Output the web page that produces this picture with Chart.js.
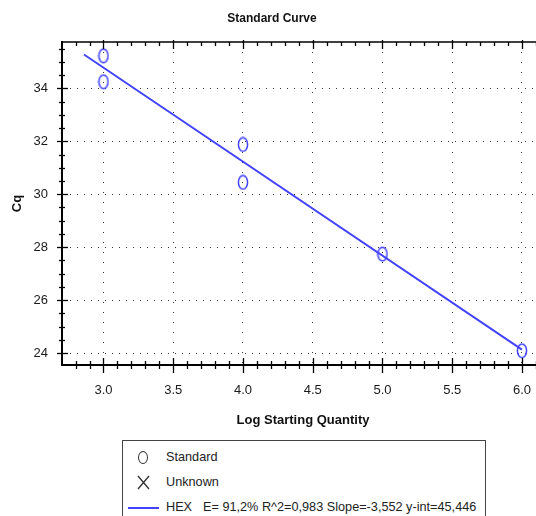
<!DOCTYPE html>
<html><head><meta charset="utf-8">
<script src="https://cdn.jsdelivr.net/npm/chart.js@4"></script>
<style>
html,body{margin:0;padding:0;width:536px;height:516px;overflow:hidden;background:#fff;}
#wrap{position:relative;width:554px;height:516px;}
#c{position:absolute;left:0;top:0;}
#legend{position:absolute;left:122px;top:440px;width:362px;height:95px;border:1.5px solid #444;background:#fff;font:12.7px "Liberation Sans",Arial,sans-serif;color:#222;}
.t{position:absolute;line-height:16px;white-space:nowrap;}
.m{position:absolute;}
</style></head><body>
<div id="wrap"><canvas id="c" width="554" height="516"></canvas><div id="legend"></div></div>
<script>
// ---- data ----
const standardLogQty = [3.0, 3.0, 4.0, 4.0, 5.0, 6.0];
const standardCq     = [35.23, 34.25, 31.88, 30.45, 27.74, 24.09];
const unknownLogQty  = [];
const unknownCq      = [];
const fitLogQty      = [2.86, 6.0];
const fitCq          = [35.28, 24.13];
const xTickValues    = [3.0, 3.5, 4.0, 4.5, 5.0, 5.5, 6.0];
const yTickValues    = [24, 26, 28, 30, 32, 34];
const seriesNames    = ['Standard', 'Unknown', 'HEX'];
const fitStats       = 'E= 91,2% R^2=0,983 Slope=-3,552 y-int=45,446';
const chartTitle     = 'Standard Curve';
const xTitle         = 'Log Starting Quantity';
const yTitle         = 'Cq';

const BLUE = 'rgb(66,66,255)';
const FONT = '"Liberation Sans", Arial, sans-serif';

// ellipse marker
const marker = document.createElement('canvas');
marker.width = 12; marker.height = 16;
(function(){const g = marker.getContext('2d');
  g.strokeStyle = BLUE; g.lineWidth = 1.5;
  g.beginPath(); g.ellipse(6, 8, 4.6, 6.8, 0, 0, Math.PI*2); g.stroke();})();

const axisTicks = {
  id: 'axisTicks',
  afterDraw(chart){
    const {ctx, chartArea:a, scales:{x, y}} = chart;
    ctx.save();
    ctx.strokeStyle = '#000';
    ctx.lineWidth = 1.5;
    ctx.beginPath(); ctx.moveTo(a.left, a.top); ctx.lineTo(a.right, a.top); ctx.stroke();
    ctx.lineWidth = 1.3;
    for (let i = 28; i <= 61; i++) {
      const px = Math.round(x.getPixelForValue(i/10)) + 0.5;
      if (px < a.left || px > a.right) continue;
      const major = i % 5 === 0;
      ctx.beginPath(); ctx.moveTo(px, a.bottom - (major?7:4)); ctx.lineTo(px, a.bottom + (major?8:4)); ctx.stroke();
      ctx.beginPath(); ctx.moveTo(px, a.top - (major?2:0)); ctx.lineTo(px, a.top + (major?7:4)); ctx.stroke();
    }
    for (let i = 48; i <= 71; i++) {
      const py = Math.round(y.getPixelForValue(i/2)) + 0.5;
      if (py < a.top || py > a.bottom) continue;
      const major = i % 4 === 0;
      ctx.beginPath(); ctx.moveTo(a.left - (major?5:3), py); ctx.lineTo(a.left + (major?6:3), py); ctx.stroke();
    }
    ctx.restore();
  }
};

new Chart(document.getElementById('c'), {
  type: 'scatter',
  data: {
    datasets: [
      { label: seriesNames[0], data: standardLogQty.map((v,i)=>({x:v, y:standardCq[i]})),
        pointStyle: marker, pointRadius: 6, order: 0 },
      { label: seriesNames[1], data: unknownLogQty.map((v,i)=>({x:v, y:unknownCq[i]})),
        pointStyle: 'crossRot', pointRadius: 6, borderColor: BLUE, order: 1 },
      { type: 'line', label: seriesNames[2], data: fitLogQty.map((v,i)=>({x:v, y:fitCq[i]})),
        borderColor: BLUE, borderWidth: 1.9, pointRadius: 0, fill: false, order: 2 }
    ]
  },
  options: {
    responsive: false, animation: false,
    layout: { padding: { left: 0, right: 10, top: 0, bottom: 0 } },
    plugins: {
      legend: { display: false }, tooltip: { enabled: false },
      title: { display: true, text: chartTitle, color: '#111',
        font: { family: FONT, size: 12, weight: 'bold' }, padding: { top: 11, bottom: 16.6 } }
    },
    scales: {
      x: {
        type: 'linear', min: 2.7025, max: 6.158,
        afterBuildTicks: s => { s.ticks = xTickValues.map(v => ({ value: v })); },
        afterFit: s => { s.height = 151; },
        ticks: { callback: v => Number(v).toFixed(1), color: '#1a1a1a', padding: 18,
          maxRotation: 0, autoSkip: false, font: { family: FONT, size: 13 } },
        grid: { color: '#333', lineWidth: 1, drawTicks: false },
        border: { color: '#000', width: 2, dash: [1, 9] },
        title: { display: true, text: xTitle, color: '#111',
          font: { family: FONT, size: 13, weight: 'bold' }, padding: { top: 0, bottom: 88 } }
      },
      y: {
        type: 'linear', min: 23.55, max: 35.75,
        afterBuildTicks: s => { s.ticks = yTickValues.map(v => ({ value: v })); },
        afterFit: s => { s.width = 62; },
        ticks: { color: '#1a1a1a', padding: 14, font: { family: FONT, size: 13 } },
        grid: { color: '#333', lineWidth: 1, drawTicks: false },
        border: { color: '#000', width: 2, dash: [1, 6] },
        title: { display: true, text: yTitle, color: '#111',
          font: { family: FONT, size: 13, weight: 'bold' }, padding: { top: 9.2, bottom: 0 } }
      }
    }
  },
  plugins: [axisTicks]
});

// legend (HTML, real text)
const lg = document.getElementById('legend');
lg.innerHTML =
  '<div class="m" style="left:15px;top:10px;width:8px;height:11px;border:1.3px solid #333;border-radius:50%"></div>' +
  '<div class="t" style="left:43px;top:8px">' + seriesNames[0] + '</div>' +
  '<svg class="m" style="left:14px;top:34px" width="13" height="15"><path d="M1 1L12 14M12 1L1 14" stroke="#333" stroke-width="1.3" fill="none"/></svg>' +
  '<div class="t" style="left:43px;top:33px">' + seriesNames[1] + '</div>' +
  '<div class="m" style="left:5px;top:66px;width:31px;height:2px;background:' + BLUE + '"></div>' +
  '<div class="t" style="left:43px;top:58px">' + seriesNames[2] + '</div>' +
  '<div class="t" style="left:80px;top:58px">' + fitStats + '</div>';
</script>
</body></html>
